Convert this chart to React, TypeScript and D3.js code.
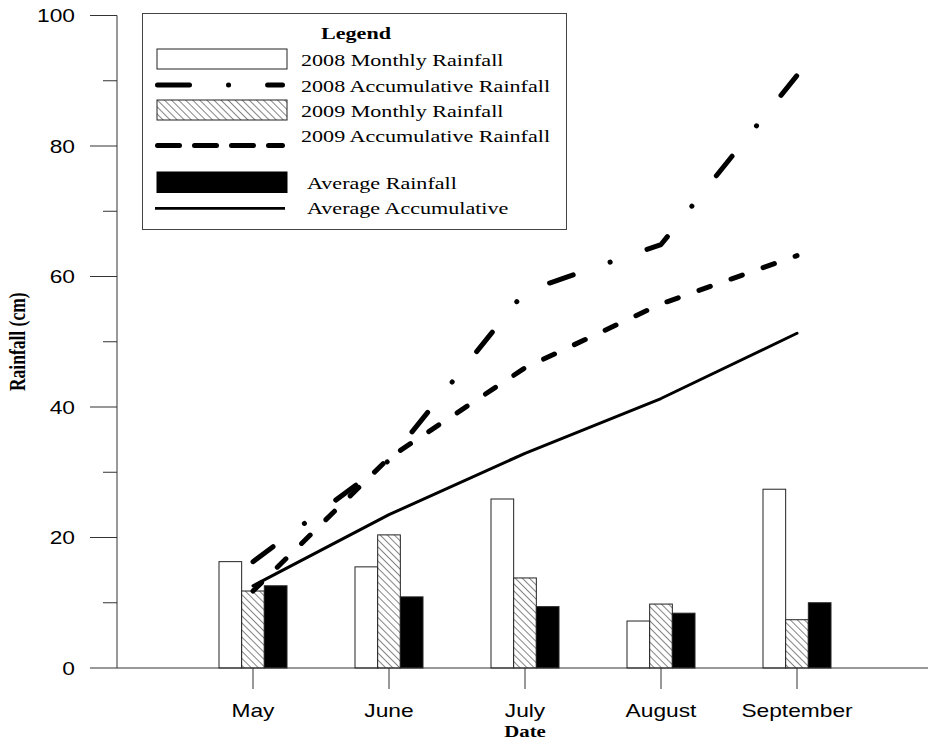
import React from 'react';
import * as d3 from 'd3';

// values (cm)
const months = ['May', 'June', 'July', 'August', 'September'];
const monthly2008 = [16.3, 15.5, 25.9, 7.2, 27.4];
const monthly2009 = [11.8, 20.4, 13.8, 9.8, 7.4];
const monthlyAvg = [12.6, 10.9, 9.4, 8.4, 10.0];
const accum2008 = [16.3, 31.8, 57.7, 64.9, 90.8];
const accum2009 = [11.8, 32.2, 46.0, 55.8, 63.2];
const accumAvg = [12.6, 23.5, 32.9, 41.3, 51.3];
const yTicks = [0, 20, 40, 60, 80, 100];
const yMinorTicks = [10, 30, 50, 70, 90];

const W = 928;
const H = 742;
const SANS = '"Liberation Sans", Arial, sans-serif';
const SERIF = '"Liberation Serif", "Times New Roman", serif';
// the source figure is stretched horizontally, text included
const SX = 1.3;

const x = d3.scaleLinear().domain([0, 6]).range([117, 933]);
const y = d3.scaleLinear().domain([0, 100]).range([668, 15.5]);
const barW = (x(1) - x(0)) / 6;

type TProps = {
    x: number; y: number; anchor?: string; size: number; family: string;
    weight?: string; children: React.ReactNode;
};

function SText({ x: tx, y: ty, anchor = 'start', size, family, weight = 'normal', children }: TProps) {
    return (
        <text
            transform={`translate(${tx},${ty}) scale(${SX},1)`}
            textAnchor={anchor}
            fontSize={size}
            fontFamily={family}
            fontWeight={weight}
            fill="#000"
        >
            {children}
        </text>
    );
}

const lineGen = d3.line<number>()
    .x((_, i) => x(i + 1))
    .y(d => y(d));

// offset = left edge of the bar, in bar widths from the month tick
const barSeries = [
    { values: monthly2008, fill: '#fff', offset: -1.5 },
    { values: monthly2009, fill: 'url(#hatch)', offset: -0.5 },
    { values: monthlyAvg, fill: '#000', offset: 0.5 },
];

const lineSeries = [
    { values: accumAvg, width: 3, dash: null },
    { values: accum2009, width: 5, dash: '12 22' },
    { values: accum2008, width: 5, dash: '25 39 0.1 39' },
];

export default function App() {
    const lx0 = 155, lx1 = 285;
    const fs = 17;
    return (
        <svg width={W} height={H} style={{ position: 'absolute', left: 0, top: 0, background: '#fff' }}>
            <defs>
                <pattern id="hatch" patternUnits="userSpaceOnUse" width={5} height={5} patternTransform="rotate(-45)">
                    <rect width={5} height={5} fill="#fff" />
                    <line x1={0} y1={0} x2={0} y2={5} stroke="#333" strokeWidth={1.2} />
                </pattern>
            </defs>

            {/* bars */}
            {barSeries.map((s, si) => (
                <g key={si}>
                    {s.values.map((v, i) => (
                        <rect
                            key={i}
                            x={x(i + 1) + s.offset * barW}
                            y={y(v)}
                            width={barW}
                            height={y(0) - y(v)}
                            fill={s.fill}
                            stroke="#222"
                            strokeWidth={1}
                        />
                    ))}
                </g>
            ))}

            {/* accumulative lines */}
            {lineSeries.map((s, si) => (
                <path
                    key={si}
                    d={lineGen(s.values) || ''}
                    fill="none"
                    stroke="#000"
                    strokeWidth={s.width}
                    strokeDasharray={s.dash || undefined}
                    strokeLinecap="round"
                    strokeLinejoin="round"
                />
            ))}

            {/* y axis */}
            <g stroke="#333" strokeWidth={1}>
                <line x1={117} x2={117} y1={y(100)} y2={y(0)} />
                {yTicks.map(t => <line key={t} x1={90} x2={117} y1={y(t)} y2={y(t)} />)}
                {yMinorTicks.map(t => <line key={t} x1={103} x2={117} y1={y(t)} y2={y(t)} />)}
            </g>
            {yTicks.map(t => (
                <SText key={t} x={75} y={y(t) + 6.5} anchor="end" size={17.5} family={SANS}>{t}</SText>
            ))}
            <text
                transform={`translate(25,${(y(0) + y(100)) / 2}) rotate(-90) scale(1,${SX})`}
                textAnchor="middle"
                fontSize={17.5}
                fontFamily={SERIF}
                fontWeight="bold"
            >
                Rainfall (cm)
            </text>

            {/* x axis */}
            <g stroke="#333" strokeWidth={1}>
                <line x1={117} x2={W} y1={y(0)} y2={y(0)} />
                {months.map((m, i) => <line key={m} x1={x(i + 1)} x2={x(i + 1)} y1={y(0)} y2={y(0) + 21} />)}
            </g>
            {months.map((m, i) => (
                <SText key={m} x={x(i + 1)} y={717} anchor="middle" size={17.5} family={SANS}>{m}</SText>
            ))}
            <SText x={525} y={736.5} anchor="middle" size={16} family={SERIF} weight="bold">Date</SText>

            {/* legend */}
            <rect x={142.5} y={13.5} width={424} height={216} fill="#fff" stroke="#444" strokeWidth={1} />
            <SText x={356} y={39} anchor="middle" size={fs} family={SERIF} weight="bold">Legend</SText>

            <rect x={157} y={49} width={130} height={20} fill="#fff" stroke="#222" />
            <SText x={301} y={66} size={fs} family={SERIF}>2008 Monthly Rainfall</SText>

            <line x1={lx0 + 2.5} x2={lx1 - 2.5} y1={85} y2={85} stroke="#000" strokeWidth={5}
                strokeLinecap="round" strokeDasharray="32 39 0.1 39" />
            <SText x={301} y={91.5} size={fs} family={SERIF}>2008 Accumulative Rainfall</SText>

            <rect x={157} y={100} width={130} height={20} fill="url(#hatch)" stroke="#222" />
            <SText x={301} y={116.5} size={fs} family={SERIF}>2009 Monthly Rainfall</SText>

            <line x1={lx0 + 2.5} x2={lx1 - 2.5} y1={145.5} y2={145.5} stroke="#000" strokeWidth={5}
                strokeLinecap="round" strokeDasharray="22 15" />
            <SText x={301} y={141.5} size={fs} family={SERIF}>2009 Accumulative Rainfall</SText>

            <rect x={157} y={172} width={130} height={20.5} fill="#000" stroke="#000" />
            <SText x={307} y={188.5} size={fs} family={SERIF}>Average Rainfall</SText>

            <line x1={lx0} x2={lx1} y1={208.3} y2={208.3} stroke="#000" strokeWidth={2.8} />
            <SText x={307} y={214} size={fs} family={SERIF}>Average Accumulative</SText>
        </svg>
    );
}
